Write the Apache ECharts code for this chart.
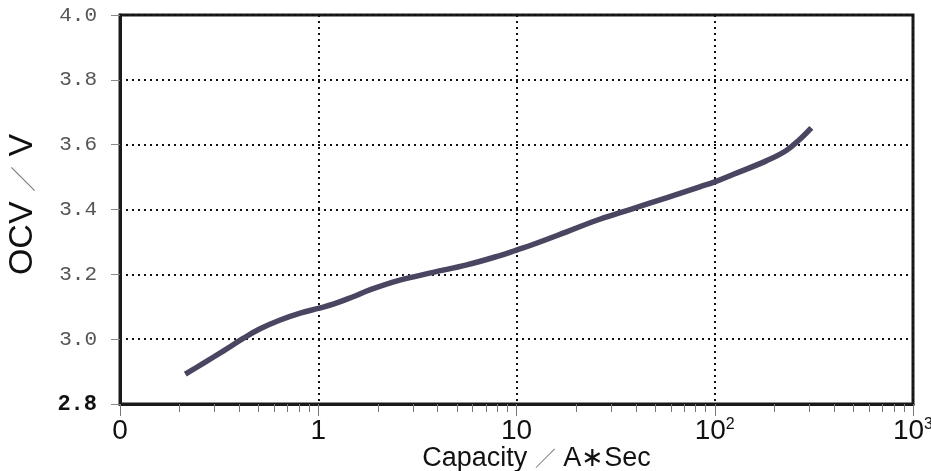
<!DOCTYPE html>
<html>
<head>
<meta charset="utf-8">
<script src="https://cdn.jsdelivr.net/npm/echarts@6/dist/echarts.min.js"></script>
<style>
html,body{margin:0;padding:0;background:#fff;}
#chart{width:931px;height:471px;}
</style>
</head>
<body>
<div id="chart"></div>
<script>
// Data
var capacity = [0.2135, 0.264, 0.333, 0.42, 0.509, 0.643, 0.811, 1.0, 1.19, 1.50, 1.82, 2.58, 3.80, 5.61, 8.25, 10, 12.1, 17.9, 26.3, 38.7, 57, 84, 100, 123.6, 182, 229.6, 268, 307];
var ocv =      [2.892, 2.926, 2.964, 3.003, 3.032, 3.059, 3.080, 3.095, 3.108, 3.131, 3.152, 3.182, 3.206, 3.229, 3.258, 3.275, 3.292, 3.331, 3.370, 3.403, 3.436, 3.470, 3.485, 3.508, 3.550, 3.582, 3.616, 3.652];
var xMajorTicks = [0.1, 1, 10, 100, 1000];
var xMajorLabels = ['0', '1', '10', '10{sup|2}', '10{sup|3}'];
var xMinorTicks = [0.2,0.3,0.4,0.5,0.6,0.7,0.8,0.9, 2,3,4,5,6,7,8,9, 20,30,40,50,60,70,80,90, 200,300,400,500,600,700,800,900];
var yMin = 2.8, yMax = 4.0, yStep = 0.2;
var xName = 'Capacity {s|\uFF0F} A\u2217Sec';
var yName = 'OCV {s|\uFF0F} V';

var sans = 'Liberation Sans, Arial, Noto Sans CJK SC, sans-serif';
var narrow = 'Liberation Sans Narrow, Liberation Sans, Arial, sans-serif';
var cjk = 'Noto Sans CJK JP, Noto Sans CJK SC, sans-serif';

var chart = echarts.init(document.getElementById('chart'), null, {renderer: 'canvas'});
var seriesData = capacity.map(function (c, i) { return [c, ocv[i]]; });

chart.setOption({
  animation: false,
  backgroundColor: '#ffffff',
  grid: {left: 120, right: 18, top: 15, bottom: 67, show: true, borderColor: '#1a1a1a', borderWidth: 3,
         containLabel: false, outerBoundsMode: 'none'},
  xAxis: [{
    type: 'log', logBase: 10, min: 0.1, max: 1000,
    name: xName, nameLocation: 'middle', nameGap: 41, nameMoveOverlap: false,
    nameTextStyle: {fontFamily: sans, fontSize: 27, color: '#111', padding: [0, 0, 0, 40],
      rich: {s: {fontFamily: cjk, fontSize: 21, fontWeight: 200, color: '#777'}}},
    axisLine: {show: true, lineStyle: {color: '#1a1a1a', width: 3}},
    axisTick: {show: true, length: 12, lineStyle: {color: '#777', width: 1}, customValues: xMajorTicks},
    axisLabel: {
      show: true, margin: 13, fontFamily: narrow, fontSize: 28, color: '#111',
      customValues: xMajorTicks,
      formatter: function (v) {
        var i = xMajorTicks.findIndex(function (t) { return Math.abs(Math.log10(t) - Math.log10(v)) < 1e-6; });
        return i >= 0 ? xMajorLabels[i] : '';
      },
      rich: {sup: {fontSize: 16, fontFamily: narrow, color: '#111', verticalAlign: 'top'}}
    },
    splitLine: {show: true, lineStyle: {color: '#111', width: 2, type: [2, 4]}}
  }, {
    type: 'log', logBase: 10, min: 0.1, max: 1000, position: 'bottom',
    axisLine: {show: false},
    axisTick: {show: true, length: 8, lineStyle: {color: '#777', width: 1}, customValues: xMinorTicks},
    axisLabel: {show: false},
    splitLine: {show: false}
  }],
  yAxis: {
    type: 'value', min: yMin, max: yMax, interval: yStep,
    name: yName, nameLocation: 'middle', nameGap: 80, nameRotate: 90, nameMoveOverlap: false,
    nameTextStyle: {fontFamily: sans, fontSize: 34, color: '#111', padding: [0, 0, 0, 10],
      rich: {s: {fontFamily: cjk, fontSize: 26, fontWeight: 200, color: '#777'}}},
    axisLine: {show: true, lineStyle: {color: '#1a1a1a', width: 3}},
    axisTick: {show: true, length: 9, lineStyle: {color: '#888', width: 1}},
    axisLabel: {
      margin: 23,
      formatter: function (v) {
        var s = v.toFixed(1);
        return Math.abs(v - yMin) < 1e-6 ? '{b|' + s + '}' : '{a|' + s + '}';
      },
      rich: {
        a: {fontFamily: 'Liberation Mono, DejaVu Sans Mono, monospace', fontSize: 21, color: '#555'},
        b: {fontFamily: 'Liberation Mono, DejaVu Sans Mono, monospace', fontSize: 22, fontWeight: 'bold', color: '#111'}
      }
    },
    splitLine: {show: true, lineStyle: {color: '#111', width: 2, type: [2, 4]}}
  },
  series: [{
    type: 'line', xAxisIndex: 0, data: seriesData, smooth: 0.4, showSymbol: false,
    lineStyle: {color: '#4a4560', width: 5.5, cap: 'butt'}
  }]
});
</script>
</body>
</html>
